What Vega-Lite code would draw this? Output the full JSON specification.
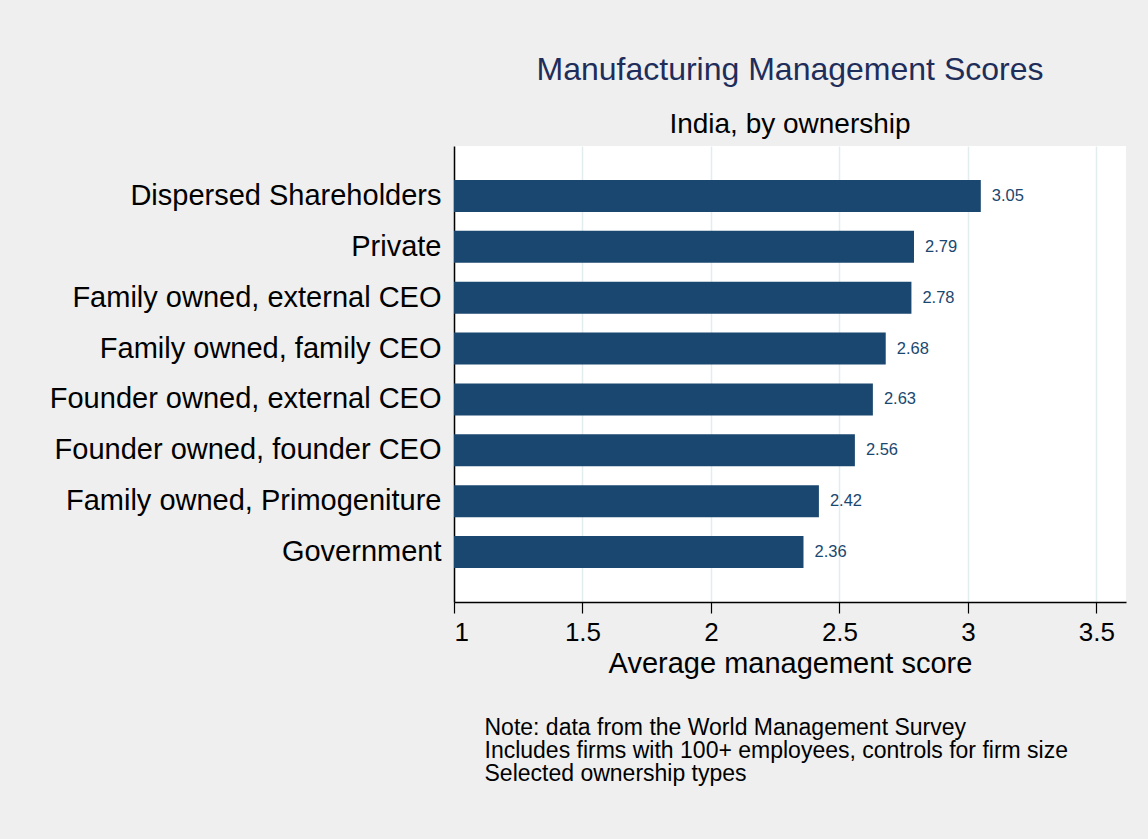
{
  "$schema": "https://vega.github.io/schema/vega-lite/v6.json",
  "width": 672,
  "height": 456,
  "autosize": {"type": "none"},
  "padding": {"left": 454, "top": 146, "right": 22, "bottom": 237},
  "background": "#efefef",
  "config": {
    "font": "Liberation Sans",
    "view": {"fill": "white", "stroke": null}
  },
  "title": {
    "text": "Manufacturing Management Scores",
    "subtitle": "India, by ownership",
    "fontSize": 32,
    "fontWeight": "normal",
    "color": "#1e2d5a",
    "font": "Liberation Sans",
    "subtitleFont": "Liberation Sans",
    "subtitleFontSize": 28,
    "subtitleColor": "black",
    "subtitlePadding": 24,
    "offset": 6,
    "anchor": "middle"
  },
  "data": {
    "values": [
      {"ownership": "Dispersed Shareholders", "score": 3.05},
      {"ownership": "Private", "score": 2.79},
      {"ownership": "Family owned, external CEO", "score": 2.78},
      {"ownership": "Family owned, family CEO", "score": 2.68},
      {"ownership": "Founder owned, external CEO", "score": 2.63},
      {"ownership": "Founder owned, founder CEO", "score": 2.56},
      {"ownership": "Family owned, Primogeniture", "score": 2.42},
      {"ownership": "Government", "score": 2.36}
    ]
  },
  "layer": [
    {
      "mark": {"type": "bar", "color": "#1a476f"},
      "encoding": {
        "y": {
          "field": "ownership",
          "type": "nominal",
          "sort": null,
          "scale": {"paddingInner": 0.37, "paddingOuter": 0.668},
          "axis": {
            "title": null,
            "ticks": false,
            "domainColor": "black",
            "domainWidth": 1.5,
            "labelFontSize": 29,
            "labelColor": "black",
            "labelPadding": 13,
            "labelLimit": 600
          }
        },
        "x": {
          "field": "score",
          "type": "quantitative",
          "scale": {"domain": [1, 3.615], "zero": false, "nice": false},
          "axis": {
            "values": [1, 1.5, 2, 2.5, 3, 3.5],
            "format": "~g",
            "grid": true,
            "gridColor": "#e3edf0",
            "gridWidth": 1.5,
            "domainColor": "black",
            "domainWidth": 1.5,
            "tickColor": "black",
            "tickSize": 11,
            "tickWidth": 1.2,
            "labelFontSize": 26,
            "labelColor": "black",
            "labelPadding": 6,
            "title": "Average management score",
            "titleFontSize": 29,
            "titleFontWeight": "normal",
            "titleColor": "black",
            "titlePadding": 4
          }
        },
        "x2": {"datum": 1}
      }
    },
    {
      "mark": {"type": "text", "align": "left", "baseline": "middle", "dx": 11, "fontSize": 16.5, "color": "#1a476f"},
      "encoding": {
        "y": {"field": "ownership", "type": "nominal", "sort": null},
        "x": {
          "field": "score",
          "type": "quantitative",
          "axis": {
            "orient": "bottom",
            "labels": false,
            "ticks": false,
            "domain": false,
            "grid": false,
            "title": [
              "Note: data from the World Management Survey",
              "Includes firms with 100+ employees, controls for firm size",
              "Selected ownership types"
            ],
            "titleFontSize": 23,
            "titleFontWeight": "normal",
            "titleColor": "black",
            "titleAlign": "left",
            "titleAnchor": "start",
            "titleBaseline": "alphabetic",
            "titleLineHeight": 23,
            "titleX": 30,
            "titleY": 132
          }
        },
        "text": {"field": "score", "type": "quantitative", "format": ".2f"}
      }
    }
  ],
  "resolve": {"axis": {"x": "independent"}}
}
